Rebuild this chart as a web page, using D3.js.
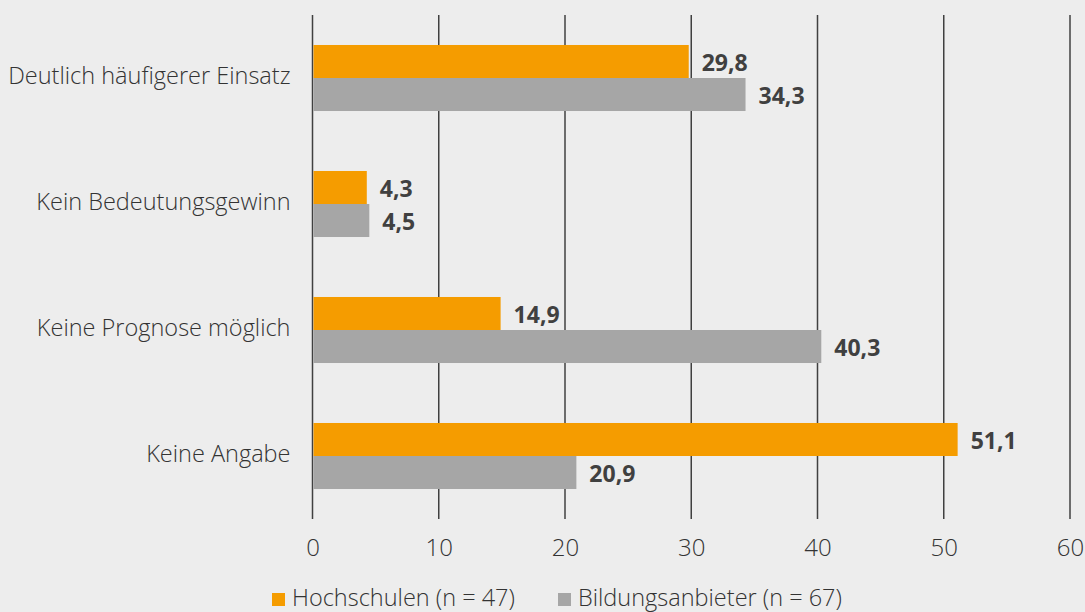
<!DOCTYPE html>
<html>
<head>
<meta charset="utf-8">
<script src="https://cdn.jsdelivr.net/npm/d3@7"></script>
<style>
  body { margin: 0; background: #ededed; }
  text { font-family: "Open Sans", "Noto Sans", sans-serif; fill: #333; }
</style>
</head>
<body>
<div class="chart"></div>
<script>
var categories = ["Deutlich häufigerer Einsatz", "Kein Bedeutungsgewinn", "Keine Prognose möglich", "Keine Angabe"];
var seriesNames = ["Hochschulen (n = 47)", "Bildungsanbieter (n = 67)"];
var hochschulen = [29.8, 4.3, 14.9, 51.1];
var bildungsanbieter = [34.3, 4.5, 40.3, 20.9];
var tickValues = [0, 10, 20, 30, 40, 50, 60];
var colors = ["#f59c00", "#a6a6a6"];

var svgWidth = 1085, svgHeight = 612;
var margin = { top: 15, right: 15, bottom: 93, left: 312.5 };
var width = svgWidth - margin.left - margin.right;
var height = svgHeight - margin.top - margin.bottom;

var svg = d3.select(".chart").append("svg")
    .attr("width", svgWidth).attr("height", svgHeight);

svg.append("rect").attr("width", svgWidth).attr("height", svgHeight).attr("fill", "#ededed");

var chartGroup = svg.append("g")
    .attr("transform", `translate(${margin.left}, ${margin.top})`);

var x = d3.scaleLinear().domain([0, 60]).range([0, 757.5]);
var y = d3.scaleBand().domain(categories).range([0, height]).paddingInner(0.476).paddingOuter(0.238);
var ySeries = d3.scaleBand().domain([0, 1]).range([0, y.bandwidth()]);

// gridlines
chartGroup.selectAll(".grid").data(tickValues).enter().append("line")
    .attr("x1", d => x(d)).attr("x2", d => x(d))
    .attr("y1", 0).attr("y2", height)
    .attr("stroke", "#404040").attr("stroke-width", 1.5);

// tick labels
var xAxis = d3.axisBottom(x).tickValues(tickValues).tickSize(0).tickPadding(0).tickFormat(d3.format("d"));
var axisG = chartGroup.append("g").attr("transform", `translate(0, ${height + 20})`).call(xAxis);
axisG.select(".domain").remove();
axisG.selectAll("text").attr("font-size", 24).attr("font-weight", 300)
    .attr("font-family", "Open Sans, Noto Sans, sans-serif").attr("fill", "#333");

var data = categories.map((c, i) => ({ cat: c, values: [hochschulen[i], bildungsanbieter[i]] }));

var groups = chartGroup.selectAll(".grp").data(data).enter().append("g")
    .attr("transform", d => `translate(0, ${y(d.cat)})`);

groups.selectAll("rect").data(d => d.values).enter().append("rect")
    .attr("x", x(0) + 1)
    .attr("y", (d, i) => ySeries(i))
    .attr("width", d => x(d) - x(0) - 1)
    .attr("height", ySeries.bandwidth())
    .attr("fill", (d, i) => colors[i]);

groups.selectAll(".val").data(d => d.values).enter().append("text")
    .attr("x", d => x(d) + 13)
    .attr("y", (d, i) => ySeries(i) + ySeries.bandwidth() / 2 + 1)
    .attr("dy", "0.36em")
    .attr("font-size", 23).attr("font-weight", "bold").style("fill", "#404040")
    .text(d => d3.format(".1f")(d).replace(".", ","));

// category labels
chartGroup.selectAll(".cat").data(categories).enter().append("text")
    .attr("x", -22)
    .attr("y", d => y(d) + y.bandwidth() / 2 - 2)
    .attr("dy", "0.36em")
    .attr("text-anchor", "end")
    .attr("font-size", 23.5).attr("font-weight", 300)
    .text(d => d);

// legend
var legendX = [272, 558];
var legend = svg.selectAll(".leg").data(seriesNames).enter().append("g")
    .attr("transform", (d, i) => `translate(${legendX[i]}, 593)`);
legend.append("rect").attr("width", 13).attr("height", 13).attr("fill", (d, i) => colors[i]);
legend.append("text").attr("x", 20).attr("y", 12.5)
    .attr("font-size", 23.5).attr("font-weight", 300).text(d => d);
</script>
</body>
</html>
